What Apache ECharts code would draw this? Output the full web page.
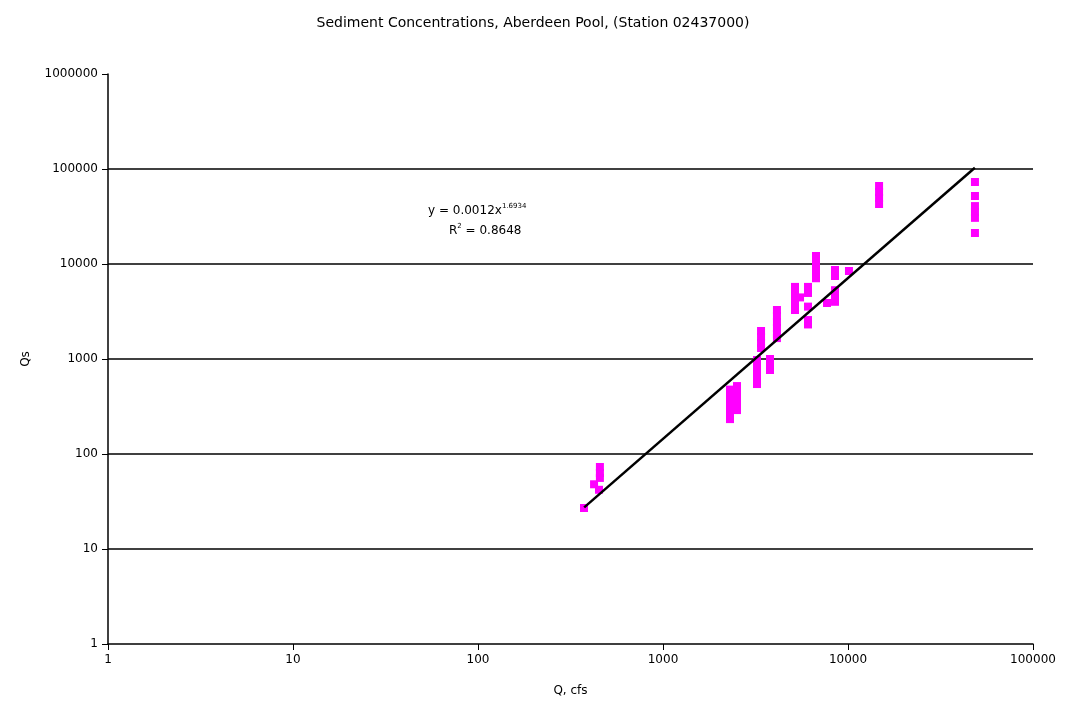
<!DOCTYPE html>
<html>
<head>
<meta charset="utf-8">
<script src="https://cdn.jsdelivr.net/npm/echarts@6/dist/echarts.min.js"></script>
<style>
html,body{margin:0;padding:0;background:#fff;}
#chart{width:1068px;height:707px;}
</style>
</head>
<body>
<div id="chart"></div>
<script>
// Discharge Q (cfs) and sediment Qs
const qValues = [
  374, 456, 456, 456, 424, 451,
  2303, 2303, 2303, 2303, 2303, 2303,
  2512, 2512, 2512, 2512, 2512,
  3388, 3388, 3388, 3388,
  3222, 3222, 3222, 3222, 3222,
  3788, 3788, 3788,
  4130, 4130, 4130, 4130, 4130, 4130,
  5170, 5170, 5170, 5170, 5170, 5505, 6080, 6080, 6080, 6080, 6080,
  6715, 6715, 6715, 6715, 6715,
  8505, 8505, 8505, 8505, 8505, 7700, 10120,
  14720, 14720, 14720, 14720,
  48560, 48560, 48560, 48560, 48560, 48560
];
const qsValues = [
  27, 73, 63, 56, 48, 42,
  476, 408, 352, 303, 265, 233,
  519, 450, 388, 335, 290,
  1972, 1700, 1470, 1306,
  976, 843, 730, 630, 545,
  1000, 880, 766,
  3280, 2830, 2451, 2120, 1833, 1660,
  5740, 4955, 4280, 3700, 3280, 4450, 5740, 4955, 3560, 2570, 2310,
  12140, 10500, 9100, 7900, 7080,
  8650, 7480, 5300, 4605, 4000, 3885, 8440,
  66200, 57300, 49600, 42800,
  73000, 52000, 40700, 35300, 30600, 21200
];
// Power trend line endpoints (y = 0.0012 x^1.6934)
const trendQ = [375, 48500];
const trendQs = [27.4, 103000];
const yTicks = [1, 10, 100, 1000, 10000, 100000, 1000000];
const xTicks = [1, 10, 100, 1000, 10000, 100000];

const titleText = 'Sediment Concentrations, Aberdeen Pool, (Station 02437000)';
const eqText = '0.0012x';
const eqExp = '1.6934';
const r2Text = '0.8648';

const pts = qValues.map((q, i) => [q, qsValues[i]]);
const trend = trendQ.map((q, i) => [q, trendQs[i]]);

const font = 'DejaVu Sans, Liberation Sans, sans-serif';
const fmt = v => String(Math.round(v));
const rich = {
  n: {fontFamily: font, fontSize: 12, fill: '#000', lineHeight: 16},
  s: {fontFamily: font, fontSize: 7, fill: '#000', verticalAlign: 'top', lineHeight: 16, padding: [0,0,8,0]}
};
const chart = echarts.init(document.getElementById('chart'), null, {renderer: 'canvas'});
chart.setOption({
  animation: false,
  backgroundColor: '#fff',
  title: {
    text: titleText,
    left: 528, top: 11, textAlign: 'center',
    textStyle: {fontFamily: font, fontSize: 14, fontWeight: 'normal', color: '#000'}
  },
  grid: {left: 108, right: 35, top: 74, bottom: 63, containLabel: false},
  xAxis: {
    type: 'log', logBase: 10, min: xTicks[0], max: xTicks[xTicks.length - 1],
    name: 'Q, cfs', nameLocation: 'middle', nameGap: 41,
    nameTextStyle: {fontFamily: font, fontSize: 12, color: '#000'},
    axisLine: {show: true, lineStyle: {color: '#000', width: 1.5}},
    axisTick: {show: true, length: 6, lineStyle: {color: '#000', width: 1}},
    axisLabel: {fontFamily: font, fontSize: 12, color: '#000', margin: 10, formatter: fmt},
    splitLine: {show: false},
    minorTick: {show: false}
  },
  yAxis: {
    type: 'log', logBase: 10, min: yTicks[0], max: yTicks[yTicks.length - 1],
    name: 'Qs', nameLocation: 'middle', nameGap: 76, nameRotate: 90,
    nameTextStyle: {fontFamily: font, fontSize: 12, color: '#000'},
    axisLine: {show: true, lineStyle: {color: '#000', width: 1.5}},
    axisTick: {show: true, length: 6, lineStyle: {color: '#000', width: 1}},
    axisLabel: {fontFamily: font, fontSize: 12, color: '#000', margin: 10, formatter: fmt},
    splitLine: {show: true, showMinLine: false, showMaxLine: false, lineStyle: {color: '#000', width: 1.5}}
  },
  series: [
    {
      type: 'scatter', data: pts, symbol: 'rect', symbolSize: [8, 8],
      itemStyle: {color: '#ff00ff', opacity: 1, borderWidth: 0}, z: 2
    },
    {
      type: 'line', data: trend, symbol: 'none',
      lineStyle: {color: '#000', width: 2.5}, z: 3
    }
  ],
  graphic: [
    {
      type: 'text', left: 428, top: 203,
      style: {text: '{n|y = ' + eqText + '}{s|' + eqExp + '}', rich: rich}
    },
    {
      type: 'text', left: 449, top: 223,
      style: {text: '{n|R}{s|2}{n| = ' + r2Text + '}', rich: rich}
    }
  ]
});
</script>
</body>
</html>
